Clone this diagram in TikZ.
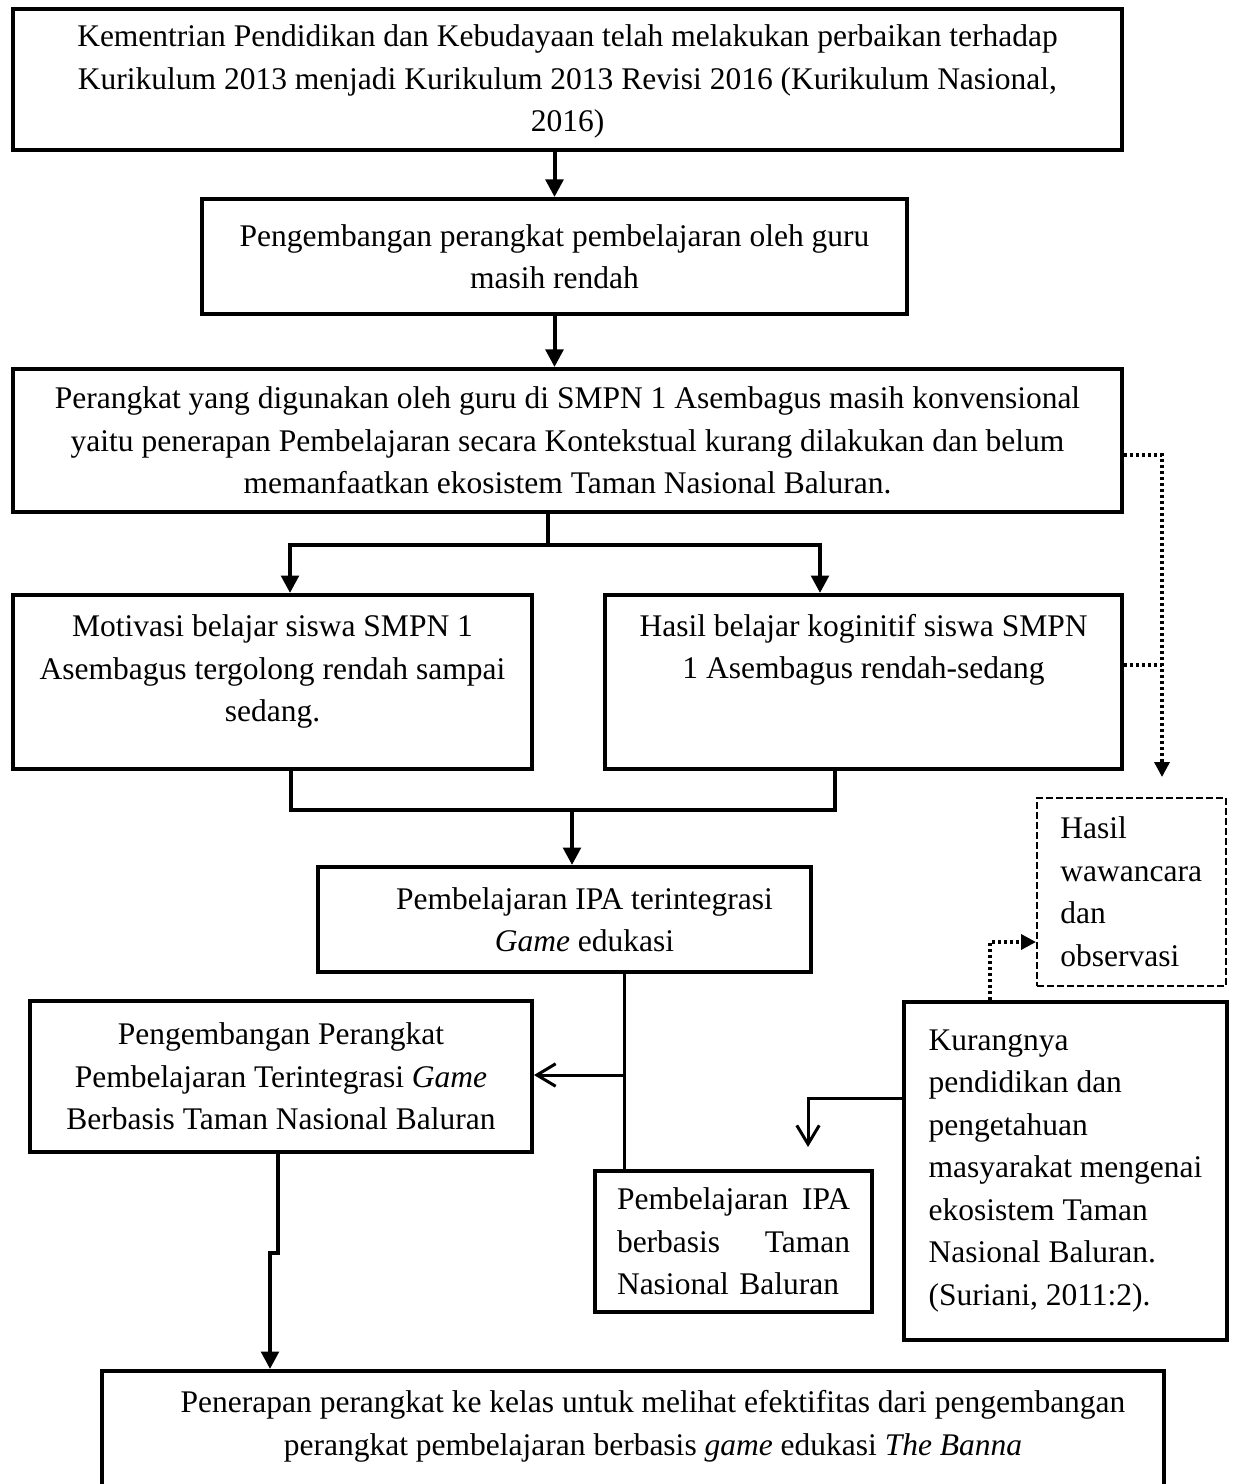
\documentclass[tikz,border=0pt]{standalone}
\usepackage{fontspec}
\setmainfont{Liberation Serif}
\usepackage{tikz}
\usetikzlibrary{arrows.meta, calc, positioning}
\tikzstyle{block} = [rectangle, line width=1.6pt, draw=black, align=center, inner sep=2pt, anchor=north west]
\tikzstyle{note} = [rectangle, line width=0.6pt, dash pattern=on 2.7pt off 1.3pt, draw=black, align=left, inner sep=2pt, anchor=north west]
\tikzstyle{arrow} = [line width=1.6pt,->,>={Triangle[length=7pt,width=7pt]}]
\tikzstyle{link} = [line width=1.6pt]
\tikzstyle{openarrow} = [line width=1.2pt,->,>={Straight Barb[length=7.5pt,width=9pt]}]
\tikzstyle{dotlink} = [line width=1.4pt, dash pattern=on 1.2pt off 1.2pt]
\tikzstyle{dotarrow} = [dotlink,->,>={Triangle[length=6pt,width=6pt]}]

\begin{document}
\begin{tikzpicture}[x=0.4pt, y=-0.4pt, font=\fontsize{12.6}{17}\selectfont]
	\useasboundingbox (0,0) rectangle (1233,1484);
	\node (kemen) [block, minimum width=443.6pt, minimum height=56.4pt, text depth=1pt] at (11,7) {Kementrian Pendidikan dan Kebudayaan telah melakukan perbaikan terhadap\\ Kurikulum 2013 menjadi Kurikulum 2013 Revisi 2016 (Kurikulum Nasional,\\ 2016)};
	\node (rendah) [block, minimum width=282pt, minimum height=46pt] at (200,197) {Pengembangan perangkat pembelajaran oleh guru\\ masih rendah};
	\node (perangkat) [block, minimum width=443.6pt, minimum height=57.2pt] at (11,367) {Perangkat yang digunakan oleh guru di SMPN 1 Asembagus masih konvensional\\ yaitu penerapan Pembelajaran secara Kontekstual kurang dilakukan dan belum\\ memanfaatkan ekosistem Taman Nasional Baluran.};
	\node (motivasi) [block, minimum width=207.6pt, minimum height=69.6pt, text depth=10.8pt] at (11,593) {Motivasi belajar siswa SMPN 1\\ Asembagus tergolong rendah sampai\\ sedang.};
	\node (hasil) [block, minimum width=206.8pt, minimum height=69.6pt, text depth=28.4pt, right = 27.6pt of motivasi] {Hasil belajar koginitif siswa SMPN\\ 1 Asembagus rendah-sedang};
	\node (wawancara) [note, minimum width=75.6pt, minimum height=75.2pt] at (1036,797) {Hasil\\ wawancara\\ dan\\ observasi};
	\node (game) [block, minimum width=197.2pt, minimum height=42pt] at (316,865) {\hspace*{16pt}Pembelajaran IPA terintegrasi\\ \hspace*{16pt}\textit{Game} edukasi};
	\node (pengembangan) [block, minimum width=200.8pt, minimum height=60.4pt] at (28,999) {Pengembangan Perangkat\\ Pembelajaran Terintegrasi \textit{Game}\\ Berbasis Taman Nasional Baluran};
	\node (kurang) [block, align=left, minimum width=129.2pt, minimum height=135.2pt] at (902,1000) {Kurangnya\\ pendidikan dan\\ pengetahuan\\ masyarakat mengenai\\ ekosistem Taman\\ Nasional Baluran.\\ (Suriani, 2011:2).};
	\node (ipabaluran) [block, align=left, text width=93.2pt, inner xsep=8.8pt, minimum height=56.4pt] at (593,1169) {Pembelajaran\hfill IPA\\ berbasis\hfill Taman\\ Nasional Baluran};
	\node (penerapan) [block, minimum width=424.8pt, minimum height=72pt, text depth=30.4pt] at (100,1369) {\hspace*{16pt}Penerapan perangkat ke kelas untuk melihat efektifitas dari pengembangan\\ \hspace*{16pt}perangkat pembelajaran berbasis \textit{game} edukasi \textit{The Banna}};

	\coordinate (split) at (548,545);
	\coordinate (splitL) at (290,545);
	\coordinate (splitR) at (820,545);
	\coordinate (mergeL) at (291,810);
	\coordinate (mergeR) at (835,810);
	\coordinate (merge) at (572,810);
	\coordinate (trunk) at (624,1075);
	\coordinate (jogA) at (278,1253);
	\coordinate (jogB) at (270,1253);
	\coordinate (kurangHook) at (808,1098);
	\coordinate (kurangEnd) at (808,1147);
	\coordinate (dotTop) at (1162,455);
	\coordinate (dotMid) at (1162,665);
	\coordinate (dotEnd) at (1162,777);
	\coordinate (dotBend) at (990,942);

	\draw [arrow] (kemen.south -| rendah.north) -- (rendah);
	\draw [arrow] (rendah) -- (rendah.south |- perangkat.north);
	\draw [link] (perangkat.south -| split) -- ([yshift=-0.8pt]split);
	\draw [arrow] (split) -| (splitL |- motivasi.north);
	\draw [arrow] (split) -| (splitR |- hasil.north);
	\draw [link] (motivasi.south -| mergeL) -- (mergeL) -- (mergeR) -- (hasil.south -| mergeR);
	\draw [arrow] ([yshift=0.8pt]merge) -- (merge |- game.north);
	\draw [link, line width=1.2pt] (game.south -| trunk) -- (trunk |- ipabaluran.north);
	\draw [openarrow] (trunk) -- (trunk -| pengembangan.east);
	\draw [arrow] (pengembangan.south -| jogA) -- (jogA) -- (jogB) -- (jogB |- penerapan.north);
	\draw [openarrow] (kurang.west |- kurangHook) -- (kurangHook) -- (kurangEnd);
	\draw [dotarrow] (perangkat.east |- dotTop) -- (dotTop) -- (dotEnd);
	\draw [dotlink] (hasil.east |- dotMid) -- (dotMid);
	\draw [dotarrow] (kurang.north -| dotBend) -- (dotBend) -- (dotBend -| wawancara.west);
\end{tikzpicture}
\end{document}
